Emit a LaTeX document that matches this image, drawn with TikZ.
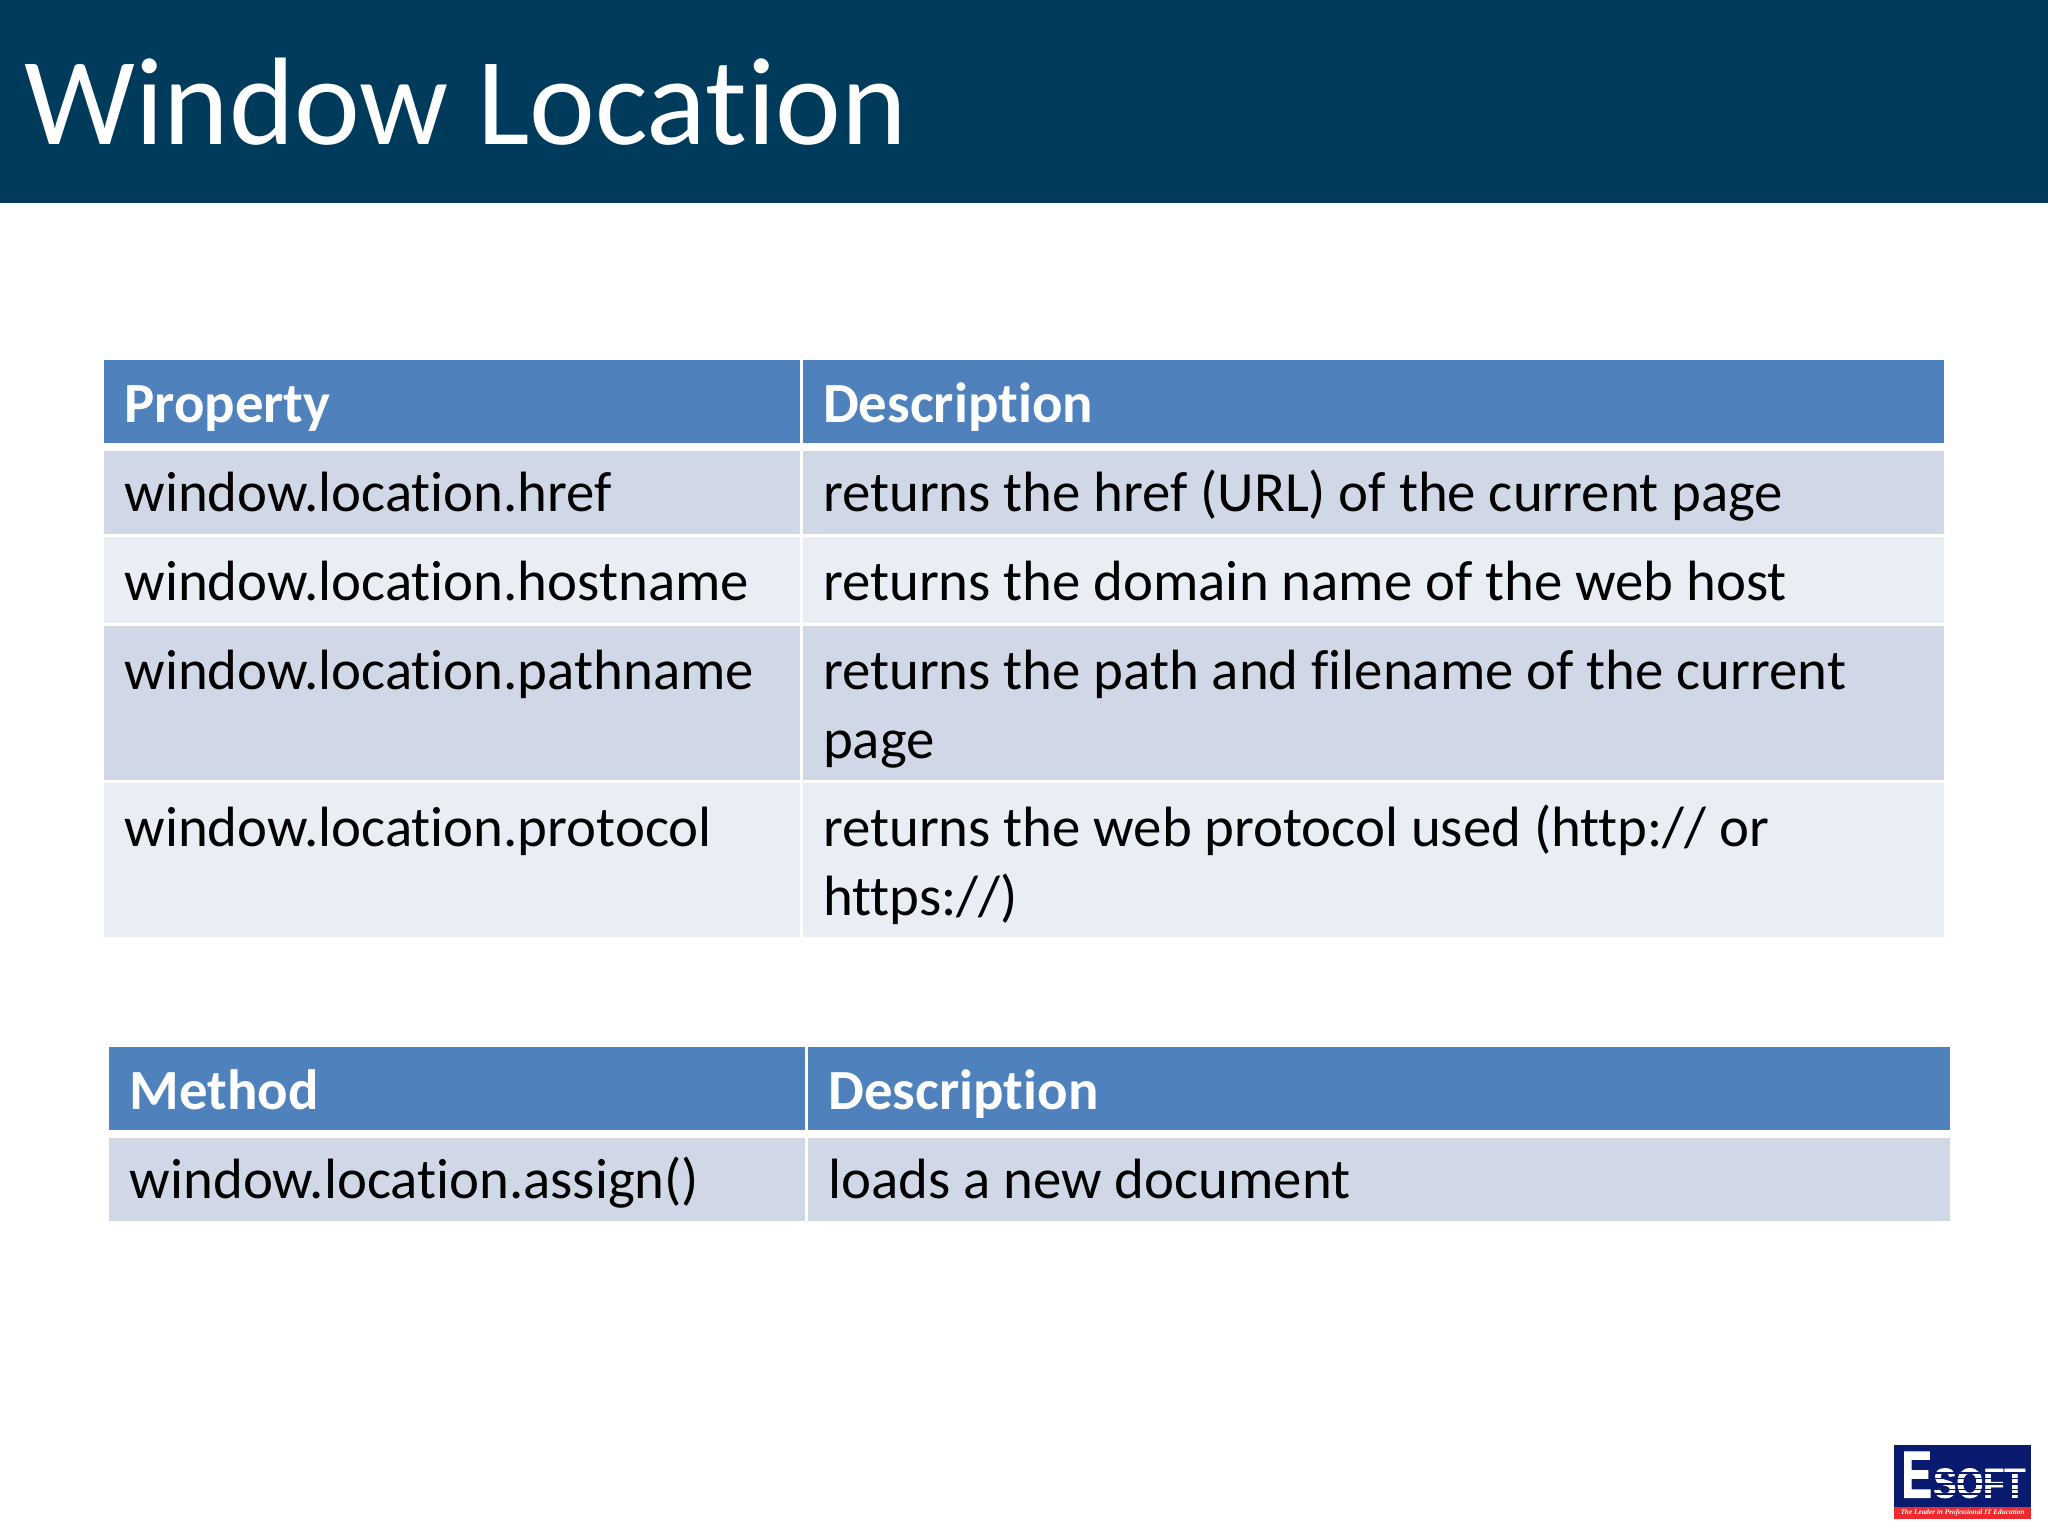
\documentclass[tikz,border=0pt]{standalone}
\usepackage{fontspec}
\setmainfont[Ligatures=NoCommon]{Carlito}
\newfontfamily\logofont[FakeBold=2]{Liberation Sans}
\newfontfamily\logoserif{Liberation Serif}
\usetikzlibrary{calc}

\definecolor{bandblue}{HTML}{003B5C}
\definecolor{headblue}{HTML}{4F81BD}
\definecolor{rowdark}{HTML}{D0D8E8}
\definecolor{rowlight}{HTML}{E9EDF4}
\definecolor{logonavy}{HTML}{0A1A6E}
\definecolor{logored}{HTML}{EE2A2E}

\tikzset{
  cell/.style={anchor=north west,inner sep=0pt,outer sep=0pt},
  colleft/.style={cell,minimum width=348pt},
  colright/.style={cell,minimum width=570.6pt},
  headcell/.style={fill=headblue,minimum height=41.5pt},
  darkcell/.style={fill=rowdark},
  lightcell/.style={fill=rowlight},
  celltext/.style={anchor=north west,inner sep=0pt,align=left,font=\fontsize{28.4}{34.6}\selectfont},
  headtext/.style={celltext,text=white,font=\fontsize{28.4}{34.6}\selectfont\bfseries},
}

\begin{document}
\begin{tikzpicture}[x=.5pt,y=-.5pt]

\useasboundingbox[fill=white] (0,0) rectangle (2048,1536);

% title band
\node[cell,fill=bandblue,minimum width=1024pt,minimum height=101.5pt] (band) at (0,0) {};
\node[anchor=base west,inner sep=0pt,text=white,font=\fontsize{62.3}{70}\selectfont] (title) at (24,144) {Window Location};

% first table
\coordinate (P) at (104,359.5);
\coordinate (Q) at (802.7,359.5);
\node[colleft,headcell] (prophead) at (P) {};
\node[colright,headcell] (deschead) at (Q) {};
\node[colleft,darkcell,minimum height=41.5pt] (href) at (104,451) {};
\node[colright,darkcell,minimum height=41.5pt] (hrefd) at (802.7,451) {};
\node[colleft,lightcell,minimum height=43pt] (host) at (104,536.5) {};
\node[colright,lightcell,minimum height=43pt] (hostd) at (802.7,536.5) {};
\node[colleft,darkcell,minimum height=77.25pt] (path) at (104,625.5) {};
\node[colright,darkcell,minimum height=77.25pt] (pathd) at (802.7,625.5) {};
\node[colleft,lightcell,minimum height=77pt] (proto) at (104,782.5) {};
\node[colright,lightcell,minimum height=77pt] (protod) at (802.7,782.5) {};

\node[headtext] (t1) at ($(prophead.north west)+(20,14)$) {\strut Property};
\node[headtext] (t2) at ($(deschead.north west)+(20,14)$) {\strut Description};
\node[celltext] (t3) at ($(href.north west)+(20,12)$) {\strut window.location.href};
\node[celltext] (t4) at ($(hrefd.north west)+(20,12)$) {\strut returns the href (URL) of the current page};
\node[celltext] (t5) at ($(host.north west)+(20,15)$) {\strut window.location.hostname};
\node[celltext] (t6) at ($(hostd.north west)+(20,15)$) {\strut returns the domain name of the web host};
\node[celltext] (t7) at ($(path.north west)+(20,15)$) {\strut window.location.pathname};
\node[celltext] (t8) at ($(pathd.north west)+(20,15)$) {\strut returns the path and filename of the current\\page};
\node[celltext] (t9) at ($(proto.north west)+(20,15)$) {\strut window.location.protocol};
\node[celltext] (t10) at ($(protod.north west)+(20,15)$) {\strut returns the web protocol used (http:// or\\https://)};

% second table
\coordinate (R) at (109,1046.5);
\coordinate (S) at (807.7,1046.5);
\node[colleft,headcell] (methhead) at (R) {};
\node[colright,headcell,minimum width=571.2pt] (desc2head) at (S) {};
\node[colleft,darkcell,minimum height=41.5pt] (assign) at (109,1138) {};
\node[colright,darkcell,minimum height=41.5pt,minimum width=571.2pt] (assignd) at (807.7,1138) {};

\node[headtext] (t11) at ($(methhead.north west)+(20.5,14)$) {\strut Method};
\node[headtext] (t12) at ($(desc2head.north west)+(20.5,14)$) {\strut Description};
\node[celltext] (t13) at ($(assign.north west)+(20.5,12)$) {\strut window.location.assign()};
\node[celltext] (t14) at ($(assignd.north west)+(20.5,12)$) {\strut loads a new document};

% logo
\node[cell,fill=logonavy,minimum width=68.2pt,minimum height=37pt] (logo) at (1894.3,1445) {};
\node[cell,fill=logored,minimum width=68.2pt,minimum height=6.2pt] (strip) at (1894.3,1506.7) {};
\node[anchor=base west,inner sep=0pt,text=white,font=\logofont\bfseries] (logoe) at (1901,1497.5) {\resizebox{15.3pt}{22.8pt}{E}};
\node[anchor=base west,inner sep=0pt,text=white,font=\logofont\bfseries] (logosoft) at (1933,1497.5) {\resizebox{46pt}{14.5pt}{SOFT}};
\foreach \y in {1473,1478.5,1484,1489.5,1494}
  \draw[logonavy,line width=.9pt] (1932,\y) -- (2026,\y);
\node[inner sep=0pt,text=white,font=\logoserif\bfseries\itshape] (motto) at (strip.center) {\resizebox{62pt}{!}{The Leader in Professional IT Education}};

\end{tikzpicture}
\end{document}
